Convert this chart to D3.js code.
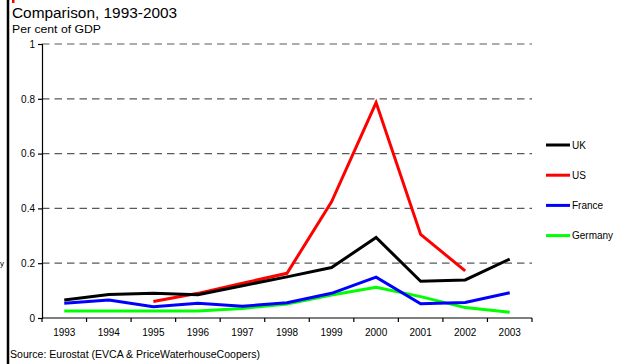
<!DOCTYPE html>
<html>
<head>
<meta charset="utf-8">
<script src="https://cdn.jsdelivr.net/npm/d3@7"></script>
<style>
  html, body { margin: 0; padding: 0; background: #fff; }
  svg { display: block; font-family: "Liberation Sans", Arial, sans-serif; }
</style>
</head>
<body>
<svg id="chart" width="619" height="364"></svg>
<script>
// Venture capital investment as a share of GDP
const years = ["1993","1994","1995","1996","1997","1998","1999","2000","2001","2002","2003"];
const ukValues      = [0.066, 0.086, 0.090, 0.085, 0.118, 0.150, 0.184, 0.294, 0.134, 0.139, 0.215];
const usValues      = [null, null, 0.060, 0.090, 0.127, 0.163, 0.424, 0.786, 0.305, 0.172, null];
const franceValues  = [0.054, 0.066, 0.041, 0.054, 0.043, 0.056, 0.090, 0.149, 0.052, 0.057, 0.092];
const germanyValues = [0.026, 0.026, 0.026, 0.026, 0.035, 0.051, 0.084, 0.112, 0.078, 0.038, 0.021];
const yTicks = [0, 0.2, 0.4, 0.6, 0.8, 1];
const yTickLabels = ["0", "0.2", "0.4", "0.6", "0.8", "1"];

const series = [
  { name: "UK",      color: "#000000", values: ukValues },
  { name: "US",      color: "#ff0000", values: usValues },
  { name: "France",  color: "#0000ff", values: franceValues },
  { name: "Germany", color: "#00ff00", values: germanyValues }
];

const svg = d3.select("#chart");
const plot = { left: 42, right: 532, top: 44, bottom: 318 };

const x = d3.scaleBand().domain(years).range([plot.left, plot.right]);
const y = d3.scaleLinear().domain([0, 1]).range([plot.bottom, plot.top]);

// Frame edge on the left
svg.append("line")
  .attr("x1", 8).attr("x2", 8).attr("y1", 0).attr("y2", 364)
  .attr("stroke", "#000").attr("stroke-width", 2.5);
svg.append("rect")
  .attr("x", 12).attr("y", 0).attr("width", 2.5).attr("height", 3)
  .attr("fill", "#ff0000");
svg.append("text")
  .attr("x", 0).attr("y", 266)
  .attr("font-size", 8).attr("fill", "#000")
  .text("y");

// Titles
svg.append("text")
  .attr("x", 12).attr("y", 18)
  .attr("font-size", 15.4).attr("fill", "#000")
  .text("Comparison, 1993-2003");
svg.append("text")
  .attr("x", 12).attr("y", 33)
  .attr("font-size", 11).attr("textLength", 89).attr("lengthAdjust", "spacingAndGlyphs")
  .attr("fill", "#000")
  .text("Per cent of GDP");

// Dashed gridlines
svg.append("g")
  .selectAll("line")
  .data(yTicks.filter(d => d > 0))
  .join("line")
  .attr("x1", plot.left).attr("x2", plot.right)
  .attr("y1", d => y(d)).attr("y2", d => y(d))
  .attr("stroke", "#5a5a5a").attr("stroke-width", 1.2)
  .attr("stroke-dasharray", "7.5,5");

// Y axis
const yAxis = d3.axisLeft(y)
  .tickValues(yTicks)
  .tickSize(4)
  .tickPadding(3)
  .tickFormat((d, i) => yTickLabels[i]);
const gy = svg.append("g")
  .attr("transform", `translate(${plot.left},0)`)
  .call(yAxis);
gy.select(".domain").attr("stroke", "#000").attr("stroke-width", 1.2);
gy.selectAll(".tick line").attr("stroke", "#000").attr("stroke-width", 1.2);
gy.selectAll(".tick text")
  .attr("font-size", 10).attr("font-family", "Liberation Sans, Arial, sans-serif").attr("fill", "#000");

// X axis: ticks at category boundaries, labels centred in each band
const boundaries = years.map(d => x(d)).concat([plot.right]);
const gx = svg.append("g");
gx.append("line")
  .attr("x1", plot.left).attr("x2", plot.right)
  .attr("y1", plot.bottom).attr("y2", plot.bottom)
  .attr("stroke", "#000").attr("stroke-width", 1.2);
gx.selectAll("line.tk")
  .data(boundaries)
  .join("line")
  .attr("class", "tk")
  .attr("x1", d => d).attr("x2", d => d)
  .attr("y1", plot.bottom).attr("y2", plot.bottom + 4)
  .attr("stroke", "#000").attr("stroke-width", 1.2);
gx.selectAll("text")
  .data(years)
  .join("text")
  .attr("x", d => x(d) + x.bandwidth() / 2)
  .attr("y", 336)
  .attr("text-anchor", "middle")
  .attr("font-size", 10).attr("fill", "#000")
  .text(d => d);

// Lines
const line = d3.line()
  .defined(d => d.v != null)
  .x(d => x(d.year) + x.bandwidth() / 2)
  .y(d => y(d.v));

const order = ["Germany", "France", "US", "UK"];
svg.append("g")
  .selectAll("path")
  .data(order.map(n => series.find(s => s.name === n)))
  .join("path")
  .attr("d", s => line(s.values.map((v, i) => ({ year: years[i], v }))))
  .attr("fill", "none")
  .attr("stroke", s => s.color)
  .attr("stroke-width", 3)
  .attr("stroke-linejoin", "miter");

// Legend
const legend = svg.append("g")
  .selectAll("g")
  .data(series)
  .join("g")
  .attr("transform", (d, i) => `translate(546,${145 + i * 30.2})`);
legend.append("line")
  .attr("x1", 0).attr("x2", 24).attr("y1", 0).attr("y2", 0)
  .attr("stroke", d => d.color).attr("stroke-width", 3);
legend.append("text")
  .attr("x", 26).attr("y", 3.5)
  .attr("font-size", 10).attr("fill", "#000")
  .text(d => d.name);

// Source note
svg.append("text")
  .attr("x", 10).attr("y", 358)
  .attr("font-size", 10).attr("textLength", 250).attr("lengthAdjust", "spacingAndGlyphs")
  .attr("fill", "#000")
  .text("Source: Eurostat (EVCA & PriceWaterhouseCoopers)");
</script>
</body>
</html>
